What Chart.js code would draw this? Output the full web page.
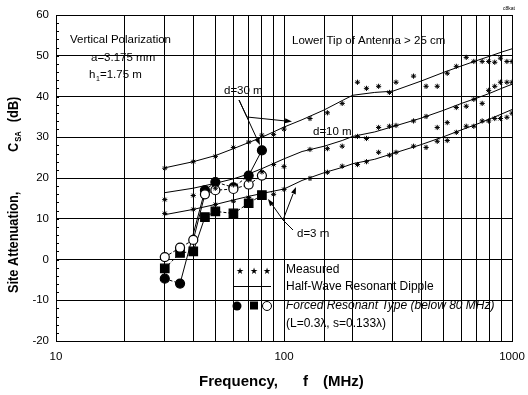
<!DOCTYPE html>
<html>
<head>
<meta charset="utf-8">
<script src="https://cdn.jsdelivr.net/npm/chart.js@4.4.1/dist/chart.umd.min.js"></script>
<style>
  html, body { margin: 0; padding: 0; background: #fff; }
  #wrap { width: 528px; height: 395px; position: relative; }
</style>
</head>
<body>
<div id="wrap"><canvas id="siteChart"></canvas></div>
<script>
// half-wave resonant dipole (theory lines)
const lineFreq = [30, 40, 50, 60, 70, 80, 100, 120, 150, 180, 200, 250, 300, 400, 500, 600, 700, 800, 900, 1000];
const dipole30 = [22.5, 24, 25.5, 27.2, 28.7, 30, 32.5, 34.3, 36.7, 39, 40.3, 41, 41.3, 43.8, 45.9, 47.5, 48.8, 49.9, 50.9, 51.7];
const dipole10 = [16.4, 17.5, 18.7, 19.8, 21, 22.3, 24.7, 26.5, 27.8, 29.2, 30.2, 31.3, 32.6, 34.7, 36.6, 38.3, 39.6, 40.8, 42, 43];
const dipole3 = [11, 12.3, 13.5, 14.6, 15.5, 16.2, 17.3, 19.4, 21.3, 22.6, 23.5, 24.6, 26, 28.2, 30.1, 31.8, 33.2, 34.5, 35.7, 36.8];

// measured points
const measFreq = [30, 40, 50, 60, 70, 80, 90, 100, 130, 155, 180, 210, 230, 260, 290, 310, 370, 420, 470, 520, 570, 630, 680, 740, 790, 840, 890, 950, 1000];
const meas30 = [22.4, 24, 25.3, 27.5, 28.8, 30.5, 30.7, 32, 34.6, 36, 38.3, 43.5, 42, 42.5, 41, 43.5, 45, 42.5, 42.5, 45.7, 47.4, 49.6, 48.6, 48.6, 48.6, 48.4, 49.4, 48.6, 48.6];
const meas10 = [14.7, 15.7, 17.5, 18.3, 19.5, 21.5, 23.3, 22.8, 27, 27.2, 27.8, 30.2, 29.7, 32.4, 32.7, 32.9, 34, 35.1, 32.4, 33.6, 37.3, 37.6, 39.3, 38.3, 41.5, 42.5, 43.5, 43.5, 43.5];
const meas3 = [11.3, 12.3, 13.5, 14.3, 15.2, 15.8, 16, 17.2, 19.9, 21.4, 22.9, 23.3, 24, 26.3, 25.6, 26.3, 27.8, 27.5, 29, 29.2, 31.2, 32.7, 32.7, 34, 34, 34.6, 34.6, 34.9, 35.9];

// forced resonant type (below 80 MHz)
const circleFreq = [30, 35, 45, 50, 60, 70, 80];
const circleVal = [-4.7, -5.9, 17, 19, 17.7, 20.6, 26.8];
const squareFreq = [30, 35, 40, 45, 50, 60, 70, 80];
const squareVal = [-2.2, 1.6, 2, 10.4, 11.8, 11.3, 13.8, 15.8];
const openFreq = [30, 35, 40, 45, 50, 60, 70, 80];
const openVal = [0.6, 2.9, 4.8, 16, 17, 17.3, 18.4, 20.6];

const yTicks = [-20, -10, 0, 10, 20, 30, 40, 50, 60];
const xLabels = [10, 100, 1000];

const FONT = "'Liberation Sans', Arial, sans-serif";

function pts(xs, ys) {
  return xs.map((x, i) => ({ x: x, y: ys[i] }));
}

function dipoleSet(vals) {
  return {
    data: pts(lineFreq, vals),
    borderColor: '#000', borderWidth: 1, pointRadius: 0, showLine: true, tension: 0
  };
}

function measSet(vals) {
  return {
    data: pts(measFreq, vals),
    showLine: false, pointStyle: 'star', pointRadius: 2.6,
    borderColor: '#000', borderWidth: 1, backgroundColor: '#000'
  };
}

const jumpDash = {
  borderDash: ctx => Math.abs(ctx.p1.parsed.y - ctx.p0.parsed.y) > 5 ? [] : [3, 2]
};

function forcedSet(xs, ys, style, radius, fill) {
  return {
    data: pts(xs, ys),
    showLine: true, borderColor: '#000', borderWidth: 1, segment: jumpDash,
    pointStyle: style, pointRadius: radius, pointBorderColor: '#000',
    pointBackgroundColor: fill, pointBorderWidth: 1.2
  };
}

function arrowHead(ctx, x0, y0, x1, y1) {
  const a = Math.atan2(y1 - y0, x1 - x0);
  ctx.beginPath();
  ctx.moveTo(x1, y1);
  ctx.lineTo(x1 - 7 * Math.cos(a) + 2.5 * Math.sin(a), y1 - 7 * Math.sin(a) - 2.5 * Math.cos(a));
  ctx.lineTo(x1 - 7 * Math.cos(a) - 2.5 * Math.sin(a), y1 - 7 * Math.sin(a) + 2.5 * Math.cos(a));
  ctx.closePath();
  ctx.fill();
}

function seg(ctx, pointsList) {
  ctx.beginPath();
  ctx.moveTo(pointsList[0][0], pointsList[0][1]);
  for (let i = 1; i < pointsList.length; i++) ctx.lineTo(pointsList[i][0], pointsList[i][1]);
  ctx.stroke();
}

const extras = {
  id: 'extras',
  beforeDraw(chart) {
    const ctx = chart.ctx;
    ctx.save();
    ctx.fillStyle = '#fff';
    ctx.fillRect(0, 0, chart.width, chart.height);
    ctx.restore();
  },
  afterDraw(chart) {
    const ctx = chart.ctx;
    const y = chart.scales.y;
    const area = chart.chartArea;
    ctx.save();
    ctx.fillStyle = '#000';
    ctx.strokeStyle = '#000';
    ctx.lineWidth = 1;

    // minor ticks on left axis
    for (let v = -20; v <= 60; v += 2) {
      const py = Math.round(y.getPixelForValue(v)) + 0.5;
      seg(ctx, [[area.left, py], [area.left + 3, py]]);
    }

    // notes
    ctx.font = '11.5px ' + FONT;
    ctx.textBaseline = 'alphabetic';
    ctx.fillText('Vertical Polarization', 70, 43);
    ctx.fillText('a=3.175 mm', 91, 61);
    ctx.fillText('h', 89, 78);
    ctx.font = '7px ' + FONT;
    ctx.fillText('1', 96, 81);
    ctx.font = '11.5px ' + FONT;
    ctx.fillText('=1.75 m', 100, 78);
    ctx.fillText('Lower Tip of Antenna > 25 cm', 292, 44);
    ctx.fillText('d=30 m', 224, 94);
    ctx.fillText('d=10 m', 313, 135);
    ctx.fillText('d=3 m', 297, 237);

    // arrows d=30
    seg(ctx, [[239, 100], [247, 117], [286, 121]]);
    arrowHead(ctx, 247, 117, 292, 121.5);
    seg(ctx, [[239, 100], [257, 139]]);
    arrowHead(ctx, 239, 100, 260, 145);
    // arrows d=3
    seg(ctx, [[293, 230], [283, 220], [271, 203]]);
    arrowHead(ctx, 283, 220, 268, 199);
    seg(ctx, [[283, 220], [293, 194]]);
    arrowHead(ctx, 283, 220, 296, 187);

    // legend
    ctx.font = '9px DejaVu Sans';
    ctx.textAlign = 'center';
    ctx.fillText('\u2605', 240, 274);
    ctx.fillText('\u2605', 254, 274);
    ctx.fillText('\u2605', 267, 274);
    ctx.textAlign = 'left';
    seg(ctx, [[233, 286.5], [271, 286.5]]);
    ctx.beginPath(); ctx.arc(237, 306, 4.5, 0, Math.PI * 2); ctx.fill();
    ctx.fillRect(250, 301.5, 8, 8);
    ctx.beginPath(); ctx.arc(267, 306, 4.5, 0, Math.PI * 2);
    ctx.fillStyle = '#fff'; ctx.fill(); ctx.stroke();
    ctx.fillStyle = '#000';
    ctx.font = '12px ' + FONT;
    ctx.fillText('Measured', 286, 273);
    ctx.fillText('Half-Wave Resonant Dipple', 286, 290);
    ctx.font = 'italic 12px ' + FONT;
    ctx.fillText('Forced Resonant Type (below 80 MHz)', 286, 309);
    ctx.font = '12px ' + FONT;
    ctx.fillText('(L=0.3\u03bb, s=0.133\u03bb)', 286, 327);

    // tiny figure id
    ctx.font = '5px ' + FONT;
    ctx.fillText('c8kat', 503, 10);

    // x title
    ctx.font = 'bold 15px ' + FONT;
    ctx.fillText('Frequency,', 199, 386);
    ctx.fillText('f', 303, 386);
    ctx.fillText('(MHz)', 323, 386);

    // y title (rotated, slightly condensed along its length)
    ctx.translate(18, 293);
    ctx.rotate(-Math.PI / 2);
    ctx.scale(0.85, 1);
    ctx.font = 'bold 15px ' + FONT;
    ctx.fillText('Site Attenuation,', 0, 0);
    ctx.fillText('C', 166, 0);
    const cw = ctx.measureText('C').width;
    ctx.font = 'bold 9px ' + FONT;
    ctx.fillText('SA', 166 + cw + 1, 3);
    ctx.font = 'bold 15px ' + FONT;
    ctx.fillText('(dB)', 201, 0);
    ctx.restore();
  }
};

new Chart(document.getElementById('siteChart'), {
  type: 'scatter',
  data: {
    datasets: [
      dipoleSet(dipole30), dipoleSet(dipole10), dipoleSet(dipole3),
      measSet(meas30), measSet(meas10), measSet(meas3),
      forcedSet(openFreq, openVal, 'circle', 4.5, '#fff'),
      forcedSet(squareFreq, squareVal, 'rect', 6, '#000'),
      forcedSet(circleFreq, circleVal, 'circle', 4.5, '#000')
    ]
  },
  options: {
    responsive: true,
    maintainAspectRatio: false,
    animation: false,
    layout: { padding: { top: 15, right: 16, left: 0, bottom: 0 } },
    plugins: { legend: { display: false }, tooltip: { enabled: false } },
    scales: {
      x: {
        type: 'logarithmic', min: 10, max: 1000,
        afterFit: s => { s.height = 54; },
        grid: { color: '#000', lineWidth: 1, drawTicks: true, tickLength: 8, tickColor: 'rgba(0,0,0,0)' },
        border: { color: '#000', width: 1 },
        ticks: {
          autoSkip: false, maxRotation: 0, padding: 1, color: '#000',
          font: { family: FONT, size: 11.5 },
          callback: v => xLabels.includes(v) ? String(v) : ''
        }
      },
      y: {
        min: -20, max: 60,
        afterFit: s => { s.width = 56; },
        afterBuildTicks: s => { s.ticks = yTicks.map(v => ({ value: v })); },
        grid: { color: '#000', lineWidth: 1, drawTicks: false },
        border: { color: '#000', width: 1 },
        ticks: { padding: 7, color: '#000', font: { family: FONT, size: 11.5 } }
      }
    }
  },
  plugins: [extras]
});
</script>
</body>
</html>
